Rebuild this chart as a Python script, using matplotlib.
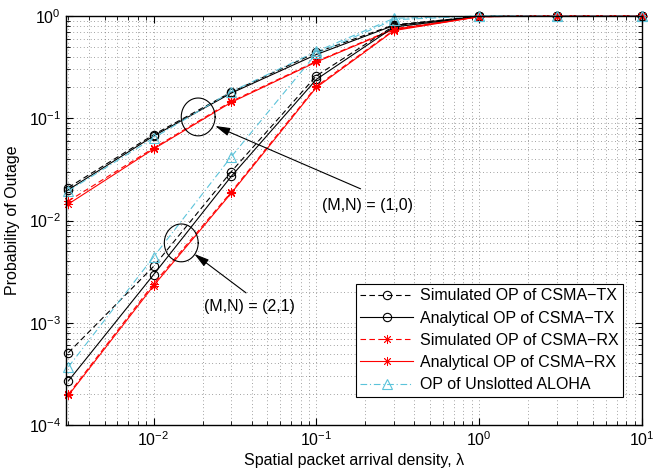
import numpy as np
import matplotlib
matplotlib.use("Agg")
import matplotlib.pyplot as plt
from matplotlib.ticker import LogLocator, NullFormatter

plt.rcParams['font.family'] = ['Liberation Sans', 'DejaVu Sans']
plt.rcParams['mathtext.fontset'] = 'custom'
plt.rcParams['mathtext.rm'] = 'Liberation Sans'
plt.rcParams['mathtext.it'] = 'Liberation Sans:italic'

# ---------------- data ----------------
density = [0.003, 0.01, 0.03, 0.1, 0.3, 1, 3, 10]

# (M,N) = (1,0)
sim_tx_10 = [0.021, 0.069, 0.180, 0.44, 0.82, 0.99, 1.0, 1.0]
ana_tx_10 = [0.020, 0.067, 0.176, 0.42, 0.81, 0.99, 1.0, 1.0]
sim_rx_10 = [0.0155, 0.051, 0.146, 0.36, 0.75, 0.985, 1.0, 1.0]
ana_rx_10 = [0.0145, 0.050, 0.143, 0.355, 0.74, 0.985, 1.0, 1.0]
aloha_10 = [0.0195, 0.064, 0.182, 0.45, 0.95, 1.0, 1.0, 1.0]

# (M,N) = (2,1)
sim_tx_21 = [5.1e-4, 3.55e-3, 0.030, 0.26, 0.80, 0.99, 1.0, 1.0]
ana_tx_21 = [2.7e-4, 2.95e-3, 0.027, 0.24, 0.78, 0.99, 1.0, 1.0]
sim_rx_21 = [2.0e-4, 2.4e-3, 0.019, 0.205, 0.73, 0.985, 1.0, 1.0]
ana_rx_21 = [1.95e-4, 2.3e-3, 0.0185, 0.20, 0.72, 0.985, 1.0, 1.0]
aloha_21 = [3.7e-4, 4.4e-3, 0.042, 0.43, 0.92, 1.0, 1.0, 1.0]

labels = ["Simulated OP of CSMA\u2212TX", "Analytical OP of CSMA\u2212TX",
          "Simulated OP of CSMA\u2212RX", "Analytical OP of CSMA\u2212RX",
          "OP of Unslotted ALOHA"]
annot_labels = ["(M,N) = (1,0)", "(M,N) = (2,1)"]

# ---------------- figure ----------------
fig = plt.figure(figsize=(6.54, 4.74), dpi=100)
ax = fig.add_axes([66/654, 1-425/474, 576/654, 409/474])

RED = '#FF0000'
CYAN = '#5BC3DA'
ast = (8, 2, 0)
lw = 0.8

styles = [
    dict(color='k', ls=(0, (5, 3)), marker='o', mfc='none', ms=6, mew=0.8),
    dict(color='k', ls='-', marker='o', mfc='none', ms=6, mew=0.8),
    dict(color=RED, ls=(0, (5, 3)), marker=ast, ms=6.5, mew=0.6),
    dict(color=RED, ls='-', marker=ast, ms=6.5, mew=0.6),
    dict(color=CYAN, ls=(0, (6, 2.5, 1, 2.5)), marker='^', mfc='none', ms=6.5, mew=0.8),
]
groups = [
    [sim_tx_10, ana_tx_10, sim_rx_10, ana_rx_10, aloha_10],
    [sim_tx_21, ana_tx_21, sim_rx_21, ana_rx_21, aloha_21],
]
handles = []
for gi, grp in enumerate(groups):
    for si, series in enumerate(grp):
        h, = ax.plot(density, series, lw=lw, clip_on=False, **styles[si])
        if gi == 0:
            handles.append(h)

ax.set_xscale('log')
ax.set_yscale('log')
ax.set_xlim(0.0029, 10)
ax.set_ylim(1e-4, 1)

ax.xaxis.set_major_locator(LogLocator(base=10, numticks=10))
ax.yaxis.set_major_locator(LogLocator(base=10, numticks=10))
ax.xaxis.set_minor_locator(LogLocator(base=10, subs=np.arange(2, 10), numticks=20))
ax.yaxis.set_minor_locator(LogLocator(base=10, subs=np.arange(2, 10), numticks=20))
ax.xaxis.set_minor_formatter(NullFormatter())
ax.yaxis.set_minor_formatter(NullFormatter())

ax.tick_params(which='both', direction='in', top=True, right=True, labelsize=11.5)
ax.tick_params(which='major', length=5, width=0.8)
ax.tick_params(which='minor', length=3, width=0.6)
for sp in ax.spines.values():
    sp.set_linewidth(1.0)

ax.grid(True, which='both', color='0.3', linestyle=(0, (1, 4)), linewidth=0.5)
ax.set_axisbelow(True)

ax.set_xlabel("Spatial packet arrival density, \u03bb", fontsize=11.5, labelpad=3)
ax.set_ylabel("Probability of Outage", fontsize=11.5, labelpad=6)

# ---------------- annotations ----------------
t = np.linspace(0, 2*np.pi, 200)
ellipses = [((0.0188, 0.103), 0.104, 0.185), ((0.0148, 0.00604), 0.104, 0.185)]
for (xc, yc), a, b in ellipses:
    ax.plot(10**(np.log10(xc) + a*np.cos(t)), 10**(np.log10(yc) + b*np.sin(t)),
            color='k', lw=0.8)

arrows = [((0.0239, 0.0841), (0.187, 0.0204), (0.206, 0.0139)),
          ((0.0178, 0.00471), (0.037, 0.00196), (0.0386, 0.00143))]
for (tip, tail, txt), lab in zip(arrows, annot_labels):
    ax.annotate("", xy=tip, xytext=tail,
                arrowprops=dict(arrowstyle='-|>,head_length=0.9,head_width=0.25',
                                color='k', lw=0.8, shrinkA=0, shrinkB=0))
    ax.text(txt[0], txt[1], lab, fontsize=11.5, ha='center', va='center')

leg = ax.legend(handles, labels, loc='lower right', bbox_to_anchor=(0.967, 0.0685),
                borderaxespad=0, fontsize=11.5, handlelength=3.3, handletextpad=0.4,
                labelspacing=0.45, fancybox=False, framealpha=1, edgecolor='k',
                borderpad=0.3)
leg.get_frame().set_linewidth(0.8)

fig.savefig("out.png", dpi=100)
